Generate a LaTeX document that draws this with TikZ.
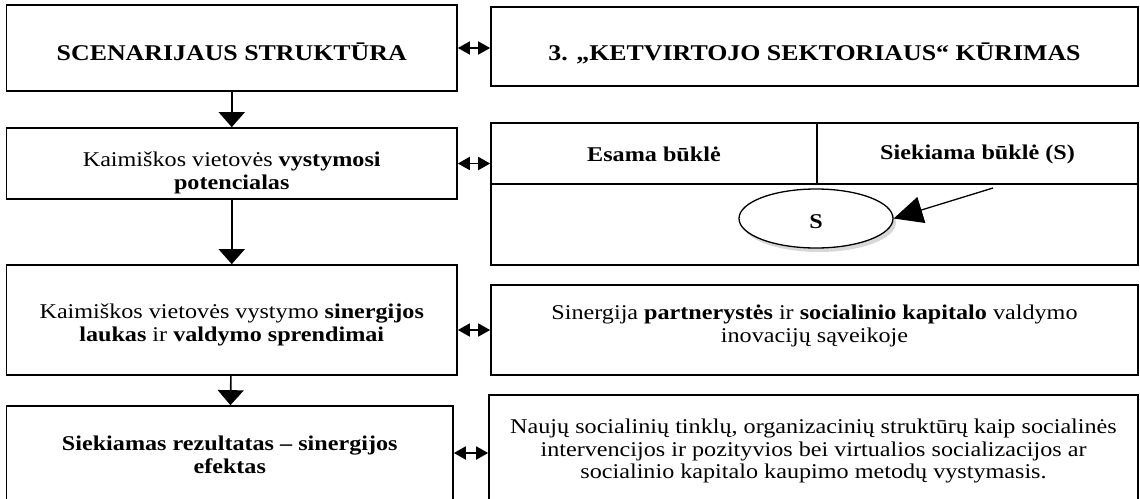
\documentclass[tikz,border=0pt]{standalone}
\usepackage{fontspec}
\setmainfont{Liberation Serif}[FakeStretch=1.15]
\usetikzlibrary{arrows.meta,shapes.geometric,shadows}

\tikzset{
  frame/.style={draw, rectangle, line width=1.7pt, inner sep=0pt},
  txt/.style={align=center, inner sep=0pt},
  title/.style={txt, font=\fontsize{22.5}{23}\selectfont\bfseries},
  down/.style={line width=1.6pt, -{Triangle[width=26pt,length=15pt]}},
  link/.style={line width=1.8pt, {Triangle[width=13pt,length=12pt]}-{Triangle[width=13pt,length=12pt]}},
  pointer/.style={line width=1.3pt, -{Triangle[width=27pt,length=29pt]}},
}

\begin{document}
\begin{tikzpicture}[x=1pt, y=-1pt, font=\fontsize{21}{22.5}\selectfont]
\useasboundingbox (0,0) rectangle (1140,498);

% left column
\node[frame, minimum width=450.5, minimum height=86] (scen) at (231.75,48) {};
\node[title] (scentxt) at (231.75,52) {SCENARIJAUS STRUKTŪRA};
\node[frame, minimum width=450.5, minimum height=71] (potenc) at (231.75,163.5) {};
\node[txt] (potenctxt) at (231.75,173) {Kaimiškos vietovės \textbf{vystymosi}\\\textbf{potencialas}};
\node[frame, minimum width=450.5, minimum height=110] (sinerg) at (231.75,320) {};
\node[txt] (sinergtxt) at (231.75,325) {Kaimiškos vietovės vystymo \textbf{sinergijos}\\\textbf{laukas} ir \textbf{valdymo sprendimai}};
\node[frame, minimum width=446.5, minimum height=94] (rezult) at (229.75,453) {};
\node[txt] (rezulttxt) at (229.75,455) {\textbf{Siekiamas rezultatas – sinergijos}\\\textbf{efektas}};

% right column
\node[frame, minimum width=647, minimum height=79] (sektor) at (814.5,46.5) {};
\node[title] (sektortxt) at (814.5,53) {3. „KETVIRTOJO SEKTORIAUS“ KŪRIMAS};
\node[frame, minimum width=326, minimum height=61] (esama) at (654,153.5) {};
\node[txt] (esamatxt) at (654,154) {\textbf{Esama būklė}};
\node[frame, minimum width=321, minimum height=61] (siekiama) at (977.5,153.5) {};
\node[txt] (siekiamatxt) at (977.5,154) {\textbf{Siekiama būklė (S)}};
\node[frame, minimum width=647, minimum height=81] (busena) at (814.5,224.5) {};
\node[draw, ellipse, line width=1.3pt, fill=white, minimum width=154, minimum height=59,
      drop shadow={shadow xshift=3pt, shadow yshift=-4pt, fill=black!30}] (starget) at (816,218.5) {};
\node[txt] (stxt) at (816,222) {\textbf{S}};
\node[frame, minimum width=647, minimum height=90] (partner) at (814.5,330) {};
\node[txt] (partnertxt) at (814.5,326) {Sinergija \textbf{partnerystės} ir \textbf{socialinio kapitalo} valdymo\\inovacijų sąveikoje};
\node[frame, minimum width=649, minimum height=110] (naujas) at (813.5,450) {};
\node[txt] (naujastxt) at (813.5,451) {Naujų socialinių tinklų, organizacinių struktūrų kaip socialinės\\intervencijos ir pozityvios bei virtualios socializacijos ar\\socialinio kapitalo kaupimo metodų vystymasis.};

% flow down
\draw[down] (scen) -- (potenc);
\draw[down] (potenc) -- (sinerg);
\draw[down] (sinerg) -- (rezult);

% links between columns
\draw[link] (scen.east) -- (scen.east -| sektor.west);
\draw[link] (potenc.east) -- (potenc.east -| esama.west);
\draw[link] (partner.west -| sinerg.east) -- (partner.west);
\draw[link] (rezult.east) -- (rezult.east -| naujas.west);

\coordinate (ptr) at (993,188);
\draw[pointer] (ptr) -- (starget.east);
\end{tikzpicture}
\end{document}
